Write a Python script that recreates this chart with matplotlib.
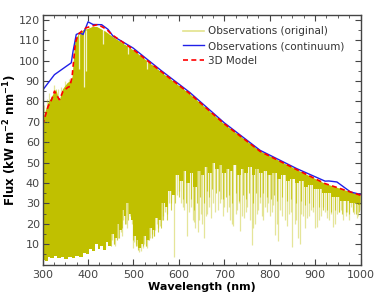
#!/usr/bin/env python3
# coding: utf-8

import matplotlib
matplotlib.use("Agg")
import matplotlib.pyplot as plt
from matplotlib.ticker import MultipleLocator

# observations, continuum fit
cont_wl = [300, 326, 352, 363, 367, 374, 382, 389, 400, 411, 430, 444, 455,
           499, 560, 624, 700, 779, 860, 922, 930, 948, 978, 1000]
cont_flux = [85.5, 93.1, 97.2, 98.9, 104.6, 112.8, 113.6, 112.8, 119.0, 117.7,
             117.6, 115.3, 112.0, 106.2, 95.3, 84.4, 69.5, 56.0, 47.0, 40.9,
             41.0, 40.5, 35.6, 34.4]

# 3D model
model_wl = [300, 312, 320, 326, 337, 345, 349, 356, 360, 365, 372, 378, 386,
            396, 410, 422, 441, 452, 499, 560, 624, 700, 779, 860, 922, 948,
            978, 1000]
model_flux = [68.5, 77.5, 81.0, 85.0, 80.8, 85.0, 85.7, 87.0, 87.3, 92.3,
              108.7, 112.8, 114.4, 116.1, 117.0, 117.7, 115.3, 112.8, 105.5,
              94.8, 83.8, 69.0, 55.5, 46.5, 39.7, 37.8, 35.6, 34.0]

# observed spectrum: upper envelope
top_wl = [300, 305, 312, 320, 330, 337, 345, 355, 362, 366, 372, 380, 390,
          400, 410, 420, 440, 455, 500, 560, 624, 700, 780, 860, 922, 948, 1000]
top_flux = [70, 74, 79, 82, 86, 80, 86, 89, 90, 92, 110, 113, 115, 115.5,
            116.5, 116.5, 114, 111.5, 105, 94.5, 83.6, 68.8, 55.4, 46.4, 39.6,
            37.7, 33.9]

# observed spectrum: lower edge of the densely filled part
low_wl = [300, 304, 308, 314, 320, 328, 336, 344, 352, 360, 368, 376, 384,
          392, 400, 406, 411, 418, 424, 430, 436, 442, 448, 454, 460, 466,
          471, 477, 482, 487, 492, 497, 502, 508, 514, 518, 524, 530, 537,
          544, 551, 558, 565, 572, 580, 588, 596, 604, 612, 620, 628, 636,
          644, 652, 660, 668, 676, 684, 692, 700, 708, 716, 724, 732, 740,
          748, 756, 764, 772, 780, 790, 800, 810, 820, 830, 840, 850, 860,
          870, 880, 890, 900, 910, 920, 930, 940, 950, 960, 970, 980, 990, 1000]
low_flux = [0.5, 2.5, 2.0, 3.5, 3.0, 4.0, 3.2, 3.8, 2.8, 3.5, 3.0, 4.0, 3.5,
            5.5, 5.0, 7.5, 6.5, 10, 7.5, 9, 7, 11, 9, 15, 13, 20, 17, 27, 24,
            30, 25, 22, 14, 12, 8, 10, 14, 12, 18, 17, 23, 22, 30, 28, 36, 34,
            44, 41, 46, 40, 45, 38, 46, 44, 48, 45, 50, 47, 49, 45, 47, 46,
            49, 44, 47, 45, 48, 44, 47, 45, 46, 44, 45, 42, 44, 41, 42, 40,
            41, 38, 39, 37, 37, 35, 35, 33, 33, 31, 31, 30, 30, 29]

# absorption lines reaching somewhat below the dense part
mid_wl = [451, 457, 463, 469, 475, 481, 489, 499, 505, 511, 522, 528, 535,
          540, 546, 553, 560, 566, 573, 583, 592, 600, 608, 615, 626, 633,
          639, 646, 655, 661, 667, 673, 681, 689, 697, 703, 711, 718, 726,
          733, 741, 748, 755, 763, 770, 778, 786, 794, 802, 809, 816, 828,
          838, 846, 858, 869, 878, 886, 895, 908, 917, 926, 935, 944, 953,
          960, 967, 975, 983, 990, 996]
mid_low = [9, 10, 12, 13, 18, 20, 22, 12, 9, 7, 9, 9, 12, 13, 14, 16, 18, 22,
           22, 27, 30, 33, 32, 30, 32, 27, 30, 33, 30, 36, 33, 37, 35, 36, 32,
           33, 34, 30, 35, 31, 34, 32, 35, 30, 35, 33, 35, 33, 32, 34, 31, 33,
           31, 32, 30, 31, 29, 30, 28, 28, 27, 27, 26, 27, 26, 25, 26, 25, 26,
           25, 26]

# deep absorption lines, pale in the picture
spike_wl = [438, 445, 452, 458, 466, 472, 478, 486, 492, 496, 502, 508, 517,
            520, 527, 533, 541, 548, 555, 562, 569, 578, 589, 595, 605, 612,
            617, 623, 630, 636, 642, 648, 651, 656, 663, 670, 676, 686, 693,
            700, 706, 713, 720, 729, 735, 744, 751, 760, 767, 775, 782, 790,
            797, 805, 812, 819, 823, 834, 843, 850, 855, 863, 866, 873, 882,
            890, 900, 904, 913, 922, 931, 940, 949, 956, 962, 970, 978, 986,
            992, 998,
            460, 475, 483, 499, 505, 512, 523, 530, 537, 545, 552, 559, 566,
            574, 583, 600, 609, 626, 633, 645, 660, 667, 680, 690, 697, 710,
            717, 725, 732, 740, 748, 756, 764, 771, 779, 786, 794, 801, 808,
            816, 828, 838, 846, 858, 870, 877, 886, 895, 908, 917, 926, 935,
            944, 953, 967, 975, 983, 995]
spike_low = [8, 11, 12, 10, 13, 16, 22, 18, 24, 20, 11, 9, 6.9, 8, 9, 12, 15,
             17, 18, 22, 26, 30, 3.6, 34, 30, 27, 14, 26, 22, 18, 16, 25, 20,
             13, 25, 23, 30, 27, 32, 28, 26, 21.7, 19, 27, 16.7, 23, 28, 9.4,
             20, 27, 24, 28, 30, 26, 14.3, 11.8, 26.6, 22, 25, 8.5, 20, 12.8,
             10.3, 24, 23, 27, 17.7, 18.4, 24, 26, 22, 18.4, 25, 27, 21.7, 26,
             28, 25, 23, 27,
             9, 14, 20, 8, 10, 6, 10, 8, 13, 14, 20, 19, 24, 25, 30, 36, 28,
             28, 21, 22, 24, 28, 26, 30, 24, 28, 20, 25, 30, 24, 26, 22, 18,
             25, 30, 22, 26, 24, 29, 20, 24, 19, 26, 22, 25, 18, 24, 26, 22,
             28, 23, 25, 20, 26, 24, 22, 27, 24]

# pale peaks above the envelope in the UV
up_wl = [304, 309, 315, 325, 333, 341, 350, 358, 363]
up_top = [78, 81, 84, 88, 86, 87, 90, 91, 90]

# narrow white notches near the top
gap_wl = [379, 392, 396.5, 432, 487, 529]
gap_top = [113, 115, 115, 117, 108.5, 101]
gap_bot = [96, 87, 95, 108, 103, 96]

obs_color = "#c0c000"
grey = "#444444"

fig = plt.figure(figsize=(3.74, 2.94), dpi=100)
ax = fig.add_axes([0.114, 0.100, 0.850, 0.850])

env = ax.fill_between(top_wl, 0, top_flux, facecolor="none", edgecolor="none")
clip = env.get_paths()[0]

ax.vlines(up_wl, 60, up_top, color=obs_color, alpha=0.4, lw=0.9)
spikes = ax.vlines(spike_wl, spike_low, 125, color=obs_color, alpha=0.4, lw=0.9)
spikes.set_clip_path(clip, ax.transData)
mids = ax.vlines(mid_wl, mid_low, 125, color=obs_color, alpha=0.7, lw=0.8)
mids.set_clip_path(clip, ax.transData)
dense = ax.fill_between(low_wl, low_flux, 125, step="mid", color=obs_color, lw=0)
dense.set_clip_path(clip, ax.transData)
ax.vlines(gap_wl, gap_bot, gap_top, color="white", lw=0.9, alpha=0.8)

ax.plot([], [], color=obs_color, alpha=0.45, lw=1.2, label="Observations (original)")
ax.plot(cont_wl, cont_flux, color="#2020e8", lw=1.0, label="Observations (continuum)")
ax.plot(model_wl, model_flux, color="red", lw=1.2, ls=(0, (3, 2)), label="3D Model")

ax.set_xlim(300, 1000)
ax.set_ylim(0, 122.5)
ax.set_xticks(range(300, 1001, 100))
ax.set_yticks(range(10, 121, 10))
ax.xaxis.set_minor_locator(MultipleLocator(25))
ax.yaxis.set_minor_locator(MultipleLocator(5))
ax.tick_params(which="both", direction="in", top=True, right=True,
               color=grey, labelcolor=grey, labelsize=8)
ax.tick_params(axis="x", pad=4)
ax.tick_params(axis="y", pad=2)
ax.tick_params(which="major", length=4, width=0.8)
ax.tick_params(which="minor", length=2, width=0.6)
for s in ax.spines.values():
    s.set_color(grey)
    s.set_linewidth(1.0)

ax.set_xlabel("Wavelength (nm)", fontsize=8, fontweight="bold", labelpad=1)
ax.set_ylabel(r"Flux (kW m$^{\mathbf{-2}}$ nm$^{\mathbf{-1}}$)", fontsize=8.5,
              fontweight="bold", labelpad=0)

leg = ax.legend(loc="upper left", bbox_to_anchor=(0.43, 0.97), frameon=False,
                fontsize=7.5, handlelength=2.0, handletextpad=0.4,
                labelspacing=0.45, borderaxespad=0)
for t in leg.get_texts():
    t.set_color("#333333")

fig.savefig("out.png", dpi=100)
